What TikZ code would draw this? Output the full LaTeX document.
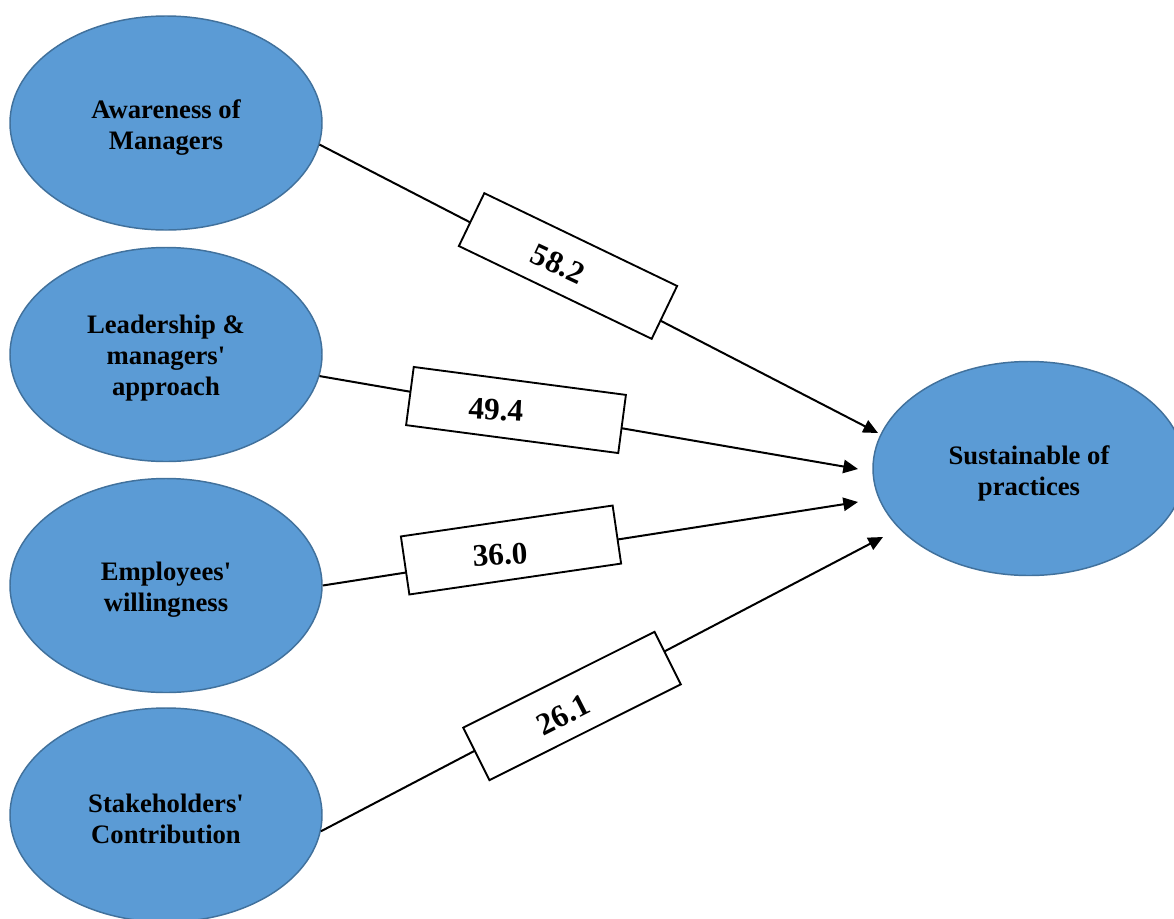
\documentclass[tikz,border=0pt]{standalone}
\usepackage{fontspec}
\setmainfont{Liberation Serif}[Ligatures=TeXOff]
\usetikzlibrary{shapes.geometric,arrows.meta}
\definecolor{efill}{HTML}{5B9BD5}
\definecolor{edraw}{HTML}{41719C}
\begin{document}
\begin{tikzpicture}[x=0.75pt,y=-0.75pt,
  oval/.style={ellipse,fill=efill,draw=edraw,line width=1.1pt,minimum width=234pt,minimum height=160.5pt,inner sep=0pt},
  lbl/.style={align=center,inner sep=0pt,font=\fontsize{20}{23.25}\selectfont\bfseries},
  valbox/.style={rectangle,draw=black,fill=white,line width=1.4pt,minimum width=160.5pt,minimum height=44pt,inner sep=0pt},
  val/.style={font=\fontsize{23.5}{26}\selectfont\bfseries,inner sep=0pt},
  conn/.style={line width=1.5pt,-{Triangle[length=11pt,width=10pt]}}]
\clip (0,0) rectangle (1174,918);
\fill[white] (0,0) rectangle (1174,918);
\node[oval] (a1) at (166,123) {};
\node[oval] (a2) at (166,354.5) {};
\node[oval] (a3) at (166,585.5) {};
\node[oval] (a4) at (166,815) {};
\node[oval] (sp) at (1029,468.5) {};
\node[lbl] (a1t) at (166,128) {Awareness of\\Managers};
\node[lbl] (a2t) at (166,358) {Leadership \&\\managers'\\approach};
\node[lbl] (a3t) at (166,590) {Employees'\\willingness};
\node[lbl] (a4t) at (166,819) {Stakeholders'\\Contribution};
\node[lbl] (spt) at (1029,473) {Sustainable of\\practices};
\coordinate (t1) at (878,433);
\coordinate (t2) at (858,469);
\coordinate (t3) at (858,502);
\coordinate (t4) at (883,537);
\draw[conn] (a1.-8) -- (t1);
\draw[conn] (a2.-8) -- (t2);
\draw[conn] (a3.0) -- (t3);
\draw[conn] (a4.-6) -- (t4);
\node[valbox,rotate=-25.7] (b1) at (568,266) {};
\node[valbox,rotate=-7.5] (b2) at (516,410) {};
\node[valbox,rotate=8.3] (b3) at (511,550) {};
\node[valbox,rotate=26.6] (b4) at (572,706) {};
\node[val,rotate=-25] (v1) at (558,264) {58.2};
\node[val,rotate=-3] (v2) at (496,410) {49.4};
\node[val,rotate=3.5] (v3) at (500,555) {36.0};
\node[val,rotate=27] (v4) at (563,715) {26.1};
\end{tikzpicture}
\end{document}
